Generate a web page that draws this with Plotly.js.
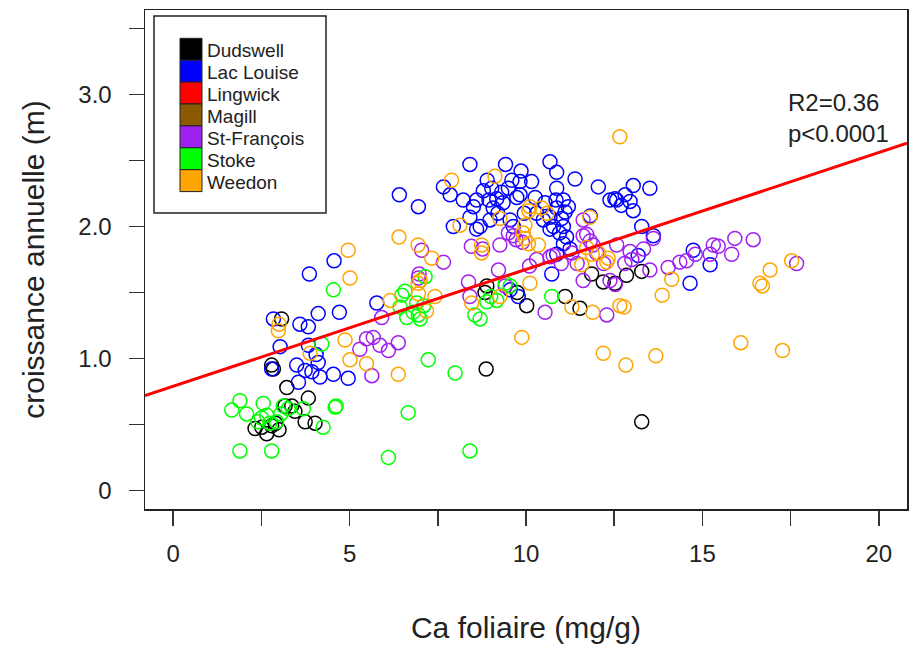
<!DOCTYPE html>
<html>
<head>
<meta charset="utf-8">
<script src="https://cdn.plot.ly/plotly-3.0.1.min.js"></script>
<style>html,body{margin:0;padding:0;background:#fff;}#chart{width:913px;height:649px;}</style>
</head>
<body>
<div id="chart"></div>
<script>
// ---- Data (Ca foliaire mg/g vs croissance annuelle m) ----
const sites = ["Dudswell","Lac Louise","Lingwick","Magill","St-François","Stoke","Weedon"];
const siteColors = ["#000000","#0000FF","#FF0000","#8B5A00","#A020F0","#00FF00","#FFA500"];

const dudswellX = [2.32,2.51,2.65,2.79,2.90,3.00,2.79,2.84,3.07,3.22,3.17,3.36,3.45,3.83,3.74,4.02,8.84,8.89,8.87,10.02,9.75,11.11,11.53,11.86,12.19,12.52,12.85,13.28,13.28];
const dudswellY = [0.47,0.48,0.43,0.49,0.51,0.46,0.95,0.92,1.30,0.78,0.64,0.64,0.60,0.70,0.52,0.51,1.50,1.55,0.92,1.40,1.50,1.47,1.38,1.64,1.58,1.57,1.63,1.66,0.52];

const lacLouiseX = [2.84,3.59,3.83,4.11,4.71,5.77,3.03,3.83,2.79,3.50,3.74,4.11,4.16,4.54,4.96,3.55,3.93,3.86,4.56,4.05,
  6.41,6.95,
  8.41,9.42,9.86,10.68,10.87,11.39,12.05,7.66,7.85,8.22,8.60,8.79,9.03,9.17,9.31,9.50,9.83,10.16,9.83,10.26,10.54,10.87,11.06,10.87,11.11,11.01,10.68,10.78,11.06,10.68,8.60,8.70,7.94,8.41,8.51,8.98,9.55,9.64,9.07,10.49,11.15,11.25,10.73,11.82,9.74,8.95,10.85,9.35,9.95,10.30,11.20,10.95,9.20,8.90,9.60,10.87,11.06,
  12.38,12.57,12.81,12.95,13.04,13.51,13.04,12.70,13.28,13.61,13.18,14.74,15.22,14.65,12.52,9.78,9.55];
const lacLouiseY = [1.30,1.26,1.24,1.34,1.35,1.42,1.09,1.10,0.92,0.95,0.91,0.97,0.86,0.88,0.85,0.82,0.90,1.64,1.74,1.03,
  2.24,2.15,
  2.47,2.47,2.42,2.49,2.41,2.36,2.30,2.30,2.24,2.20,2.20,2.27,2.29,2.21,2.26,2.29,2.34,2.34,2.24,2.22,2.18,2.29,2.20,2.14,2.11,2.06,2.07,2.00,2.00,1.98,1.98,2.00,2.00,2.07,2.15,2.05,2.05,2.00,2.14,2.05,1.92,1.83,1.64,2.08,2.22,2.20,2.20,2.18,2.10,2.10,2.15,1.95,2.10,2.35,2.35,1.79,1.87,
  2.20,2.20,2.24,2.19,2.31,2.29,2.12,2.16,2.00,1.93,1.78,1.82,1.71,1.57,2.21,1.47,1.52];

const lingwickX = [];
const lingwickY = [];
const magillX = [];
const magillY = [];

const stFrancoisX = [5.91,5.29,5.48,5.67,5.86,6.10,6.38,5.63,6.95,7.04,7.66,6.97,
  9.26,9.50,9.64,9.72,8.41,8.37,9.22,9.41,10.68,10.77,11.62,11.62,11.72,11.82,11.90,11.62,12.38,10.54,12.29,8.45,9.90,10.10,10.30,11.00,11.30,11.45,12.00,12.20,12.57,12.95,13.33,13.61,13.51,14.03,14.36,14.55,14.80,15.22,15.31,15.45,15.83,15.92,16.44,17.67,12.80,13.00,8.77,12.53];
const stFrancoisY = [1.31,1.07,1.15,1.16,1.10,1.06,1.12,0.87,1.61,1.82,1.73,1.64,
  1.86,1.95,1.93,1.90,1.47,1.58,1.67,1.55,1.77,1.78,2.05,1.93,1.94,1.89,1.86,1.59,1.59,1.35,1.33,1.85,1.88,1.70,1.75,1.72,1.80,1.72,1.80,1.72,1.86,1.81,1.83,1.91,1.67,1.69,1.73,1.74,1.79,1.79,1.86,1.85,1.79,1.91,1.90,1.72,1.72,1.75,1.83,1.56];

const stokeX = [1.89,1.66,2.08,2.55,2.65,2.93,2.74,3.12,3.26,3.69,4.59,4.62,4.25,1.89,2.79,6.10,6.66,4.21,4.54,6.43,6.62,6.80,6.90,6.48,6.57,7.00,7.14,7.23,7.99,8.41,8.55,8.70,8.89,9.17,9.41,9.55,10.73,2.40,2.50,3.05,6.95,7.10,9.00];
const stokeY = [0.68,0.61,0.58,0.66,0.57,0.52,0.51,0.64,0.62,0.62,0.63,0.64,0.48,0.30,0.30,0.25,0.59,1.11,1.52,1.39,1.31,1.35,1.42,1.48,1.51,1.30,1.62,0.99,0.89,0.30,1.33,1.30,1.43,1.44,1.57,1.55,1.47,0.52,0.55,0.58,1.33,1.40,1.47];

const weedonX = [2.98,3.00,3.88,4.87,5.01,5.48,6.38,6.15,6.95,4.96,5.01,6.40,6.94,7.00,6.94,7.33,7.42,7.18,7.89,9.12,12.66,10.11,10.44,9.26,9.97,8.13,11.81,8.74,9.97,10.07,10.35,11.72,12.33,12.05,11.58,10.11,8.46,9.26,9.88,12.19,12.83,13.68,16.09,17.27,11.30,11.89,12.66,12.78,13.86,14.13,16.63,16.70,16.92,17.53,8.74,10.60,11.88,12.29,10.08,9.92];
const weedonY = [1.21,1.26,1.04,1.14,0.99,0.96,0.88,1.44,1.49,1.82,1.61,1.92,1.86,1.59,1.57,1.76,1.47,1.36,2.35,2.38,2.68,2.15,2.14,2.06,2.01,2.01,2.07,1.86,1.91,1.87,1.86,1.84,1.76,1.80,1.71,1.57,1.42,1.47,1.16,1.04,0.95,1.02,1.12,1.06,1.39,1.35,1.40,1.39,1.48,1.60,1.57,1.55,1.67,1.74,1.80,2.10,1.79,1.73,2.12,1.95];

// regression line
const fitIntercept = 0.79;
const fitSlope = 0.0885;
const fitLabel1 = "R2=0.36";
const fitLabel2 = "p<0.0001";

const xRange = [-0.8, 20.8];
const yRange = [-0.14, 3.64];
const xTickVals = [0,2.5,5,7.5,10,12.5,15,17.5,20];
const xTickText = ["0","","5","","10","","15","","20"];
const yTickVals = [0,0.5,1,1.5,2,2.5,3,3.5];
const yTickText = ["0","","1.0","","2.0","","3.0",""];

// ---- Build ----
const seriesX = [dudswellX, lacLouiseX, lingwickX, magillX, stFrancoisX, stokeX, weedonX];
const seriesY = [dudswellY, lacLouiseY, lingwickY, magillY, stFrancoisY, stokeY, weedonY];
const drawOrder = [0,1,2,3,4,5,6];

const traces = [];
drawOrder.forEach(i => {
  if (seriesX[i].length === 0) return;
  traces.push({
    type: 'scatter', mode: 'markers', name: sites[i],
    x: seriesX[i], y: seriesY[i],
    marker: {symbol: 'circle-open', size: 14, color: siteColors[i], line: {width: 1.5, color: siteColors[i]}},
    showlegend: false, hoverinfo: 'x+y+name'
  });
});
traces.push({
  type: 'scatter', mode: 'lines', name: 'fit',
  x: xRange, y: xRange.map(v => fitIntercept + fitSlope * v),
  line: {color: '#FF0000', width: 3}, showlegend: false
});

const M = {l: 145, r: 6, t: 10, b: 140};
const W = 913, H = 649;
const pw = W - M.l - M.r, ph = H - M.t - M.b;
const px = p => (p - M.l) / pw;
const py = p => (H - M.b - p) / ph;

const shapes = [];
const annotations = [];
// legend box
shapes.push({type: 'rect', xref: 'paper', yref: 'paper', x0: px(154), x1: px(326), y0: py(213), y1: py(16), line: {color: '#222', width: 1.5}, fillcolor: 'rgba(0,0,0,0)'});
const rowTop = 38.3, rowH = 21.9;
sites.forEach((s, i) => {
  const t = rowTop + i * rowH;
  shapes.push({type: 'rect', xref: 'paper', yref: 'paper', x0: px(180), x1: px(202), y0: py(t + rowH), y1: py(t), fillcolor: siteColors[i], line: {color: '#222', width: 1}});
  annotations.push({xref: 'paper', yref: 'paper', x: px(205), y: py(t + rowH / 2 + 1.5), xanchor: 'left', yanchor: 'middle', text: s, showarrow: false, font: {family: 'Liberation Sans, Arial, sans-serif', size: 19, color: '#222'}});
});
annotations.push({xref: 'paper', yref: 'paper', x: px(786), y: py(103), xanchor: 'left', yanchor: 'middle', text: fitLabel1, showarrow: false, font: {family: 'Liberation Sans, Arial, sans-serif', size: 24, color: '#222'}});
annotations.push({xref: 'paper', yref: 'paper', x: px(786), y: py(133), xanchor: 'left', yanchor: 'middle', text: fitLabel2, showarrow: false, font: {family: 'Liberation Sans, Arial, sans-serif', size: 24, color: '#222'}});

const axisCommon = {
  showgrid: false, zeroline: false, showline: true, mirror: true,
  linecolor: '#222', linewidth: 1.5, ticks: 'outside', ticklen: 15, tickwidth: 1.5, tickcolor: '#333',
  tickfont: {family: 'Liberation Sans, Arial, sans-serif', size: 24, color: '#222'}
};

const layout = {
  width: W, height: H, margin: M,
  paper_bgcolor: '#fff', plot_bgcolor: '#fff',
  showlegend: false,
  font: {family: 'Liberation Sans, Arial, sans-serif', color: '#222'},
  xaxis: Object.assign({}, axisCommon, {
    range: xRange, tickmode: 'array', tickvals: xTickVals, ticktext: xTickText,
    ticklabelstandoff: 8,
    title: {text: 'Ca foliaire (mg/g)', font: {size: 30, color: '#222'}, standoff: 50}
  }),
  yaxis: Object.assign({}, axisCommon, {
    range: yRange, tickmode: 'array', tickvals: yTickVals, ticktext: yTickText,
    ticklabelstandoff: 12,
    title: {text: 'croissance annuelle (m)', font: {size: 30, color: '#222'}, standoff: 25}
  }),
  shapes: shapes, annotations: annotations
};

Plotly.newPlot('chart', traces, layout, {displayModeBar: false, staticPlot: true});
</script>
</body>
</html>
